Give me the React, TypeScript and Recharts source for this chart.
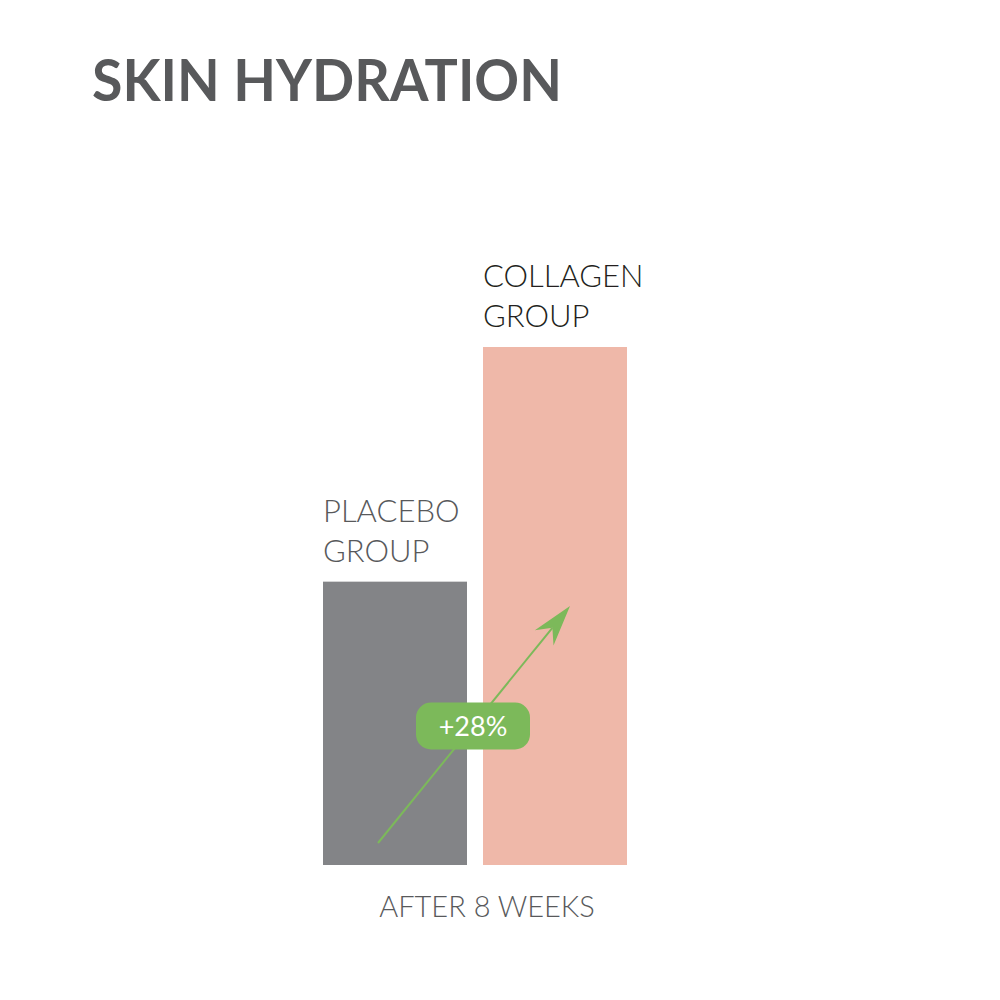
import { BarChart, Bar, XAxis, YAxis, Cell, LabelList, Label } from 'recharts';

const categories = ['PLACEBO GROUP', 'COLLAGEN GROUP'];
const hydration = [54.7, 100];
const labelLines = [
  ['PLACEBO', 'GROUP'],
  ['COLLAGEN', 'GROUP'],
];
const increaseLabel = '+28%';
const periodLabel = 'AFTER 8 WEEKS';
const title = 'SKIN HYDRATION';

const data = categories.map((name, i) => ({ name, value: hydration[i] }));

const barColors = ['#838487', '#efb8a9'];
const labelColors = ['#58595b', '#231f20'];
const green = '#7cb95a';
const font = 'Lato, "Open Sans", sans-serif';

// bar shape: collagen bar also draws the arrow + badge on top of both bars
function BarShape(props: any) {
  const { x, y, width, height, index } = props;
  const rect = <rect x={x} y={y} width={width} height={height} fill={barColors[index]} />;
  if (index !== 1) return rect;
  const base = y + height;
  const x0 = x - 105;
  const y0 = base - 22;
  const tx = x + 87;
  const ty = y + 259;
  const dx = tx - x0;
  const dy = ty - y0;
  const len = Math.sqrt(dx * dx + dy * dy);
  const ux = dx / len;
  const uy = dy / len;
  const px = -uy;
  const py = ux;
  const back = 41;
  const notch = 28;
  const half = 12;
  const bx = tx - ux * back;
  const by = ty - uy * back;
  const nx = tx - ux * notch;
  const ny = ty - uy * notch;
  const head = `M${tx},${ty} L${bx + px * half},${by + py * half} L${nx},${ny} L${bx - px * half},${by - py * half} Z`;
  const cx = x - 10;
  const cy = base - 139;
  return (
    <g>
      {rect}
      <line x1={x0} y1={y0} x2={nx} y2={ny} stroke={green} strokeWidth={2} />
      <path d={head} fill={green} />
      <rect x={cx - 57} y={cy - 23.5} width={114} height={47} rx={15} fill={green} />
      <text x={cx} y={cy + 10} textAnchor="middle" fill="#ffffff" fontFamily={font} fontWeight={400} fontSize={27}>
        {increaseLabel}
      </text>
    </g>
  );
}

function BarLabel(props: any) {
  const { x, y, index } = props;
  const lines = labelLines[index];
  return (
    <g>
      {lines.map((l, i) => (
        <text key={i} x={x} y={y - 60 + i * 40} fill={labelColors[index]} fontFamily={font} fontWeight={300} fontSize={31}>
          {l}
        </text>
      ))}
    </g>
  );
}

function PeriodLabel(props: any) {
  const { viewBox } = props;
  return (
    <text x={viewBox.x + viewBox.width / 2 + 12} y={viewBox.y + 52} textAnchor="middle" fill="#58595b" fontFamily={font} fontWeight={300} fontSize={29}>
      {periodLabel}
    </text>
  );
}

export default function App() {
  return (
    <div style={{ position: 'relative', width: 1000, height: 1000, background: '#fff' }}>
      <style>{`body{margin:0}`}</style>
      <BarChart width={1000} height={1000} data={data} margin={{ top: 347, right: 365, bottom: 0, left: 315 }} barCategoryGap={8}>
        <XAxis dataKey="name" tick={false} axisLine={false} tickLine={false} height={135}>
          <Label content={PeriodLabel} />
        </XAxis>
        <YAxis hide domain={[0, 100]} />
        <Bar dataKey="value" isAnimationActive={false} shape={BarShape}>
          {data.map((d, i) => (
            <Cell key={d.name} fill={barColors[i]} />
          ))}
          <LabelList dataKey="value" content={BarLabel} />
        </Bar>
      </BarChart>
      <svg width={1000} height={130} style={{ position: 'absolute', left: 0, top: 0, pointerEvents: 'none' }}>
        <text x={92} y={101} fill="#58595b" fontFamily={font} fontWeight={700} fontSize={57} textLength={470} lengthAdjust="spacingAndGlyphs">
          {title}
        </text>
      </svg>
    </div>
  );
}
